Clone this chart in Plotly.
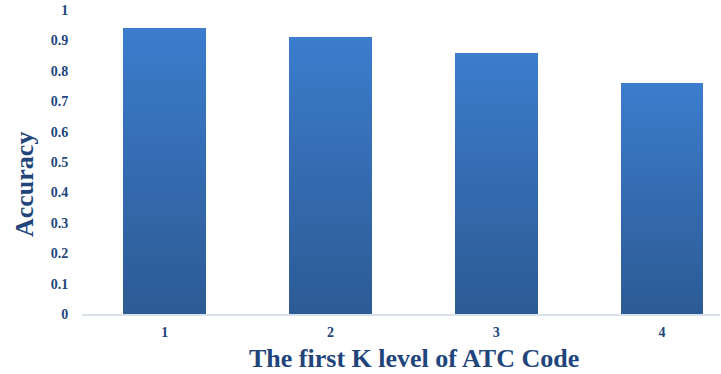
import plotly.graph_objects as go

categories = [1, 2, 3, 4]
accuracy = [0.94, 0.91, 0.86, 0.76]
y_ticks = [0, 0.1, 0.2, 0.3, 0.4, 0.5, 0.6, 0.7, 0.8, 0.9, 1]
y_tick_labels = ["0", "0.1", "0.2", "0.3", "0.4", "0.5", "0.6", "0.7", "0.8", "0.9", "1"]

TEXT = "#21457B"
FONT = "Liberation Serif"
TOP = (0x3B, 0x7C, 0xCC)
BOTTOM = (0x2D, 0x5B, 0x95)
N = 40

fig = go.Figure()
# gradient fill: each bar drawn as N stacked slices of value/N
for i in range(N):
    t = i / (N - 1)
    c = tuple(round(BOTTOM[k] + (TOP[k] - BOTTOM[k]) * t) for k in range(3))
    fig.add_trace(go.Bar(
        x=categories,
        y=[v / N for v in accuracy],
        width=0.5,
        marker=dict(color="rgb(%d,%d,%d)" % c, line=dict(width=0)),
        showlegend=False,
        hoverinfo="skip",
    ))

fig.update_layout(
    barmode="stack",
    bargap=0,
    width=721, height=374,
    margin=dict(l=82, r=1, t=10, b=60),
    paper_bgcolor="white", plot_bgcolor="white",
    font=dict(family=FONT, color=TEXT),
    xaxis=dict(
        range=[0.5, 4.35],
        tickvals=categories,
        ticktext=[str(c) for c in categories],
        tickfont=dict(size=14, family=FONT, color=TEXT, weight="bold"),
        showgrid=False, zeroline=False,
        showline=True, linecolor="#D9E2EC", linewidth=1.5,
        ticks="outside", ticklen=4, tickcolor="white",
    ),
    yaxis=dict(
        range=[0, 1],
        tickvals=y_ticks,
        ticktext=y_tick_labels,
        tickfont=dict(size=14, family=FONT, color=TEXT, weight="bold"),
        showgrid=False, zeroline=False, showline=False,
        ticks="outside", ticklen=10, tickcolor="white",
    ),
    annotations=[
        dict(text="<b>Accuracy</b>", xref="paper", yref="paper",
             x=-82 / 638 + 25 / 638, y=(314 - 185) / 304,
             xanchor="center", yanchor="middle", textangle=-90,
             showarrow=False, font=dict(size=26, family=FONT, color=TEXT)),
        dict(text="<b>The first K level of ATC Code</b>", xref="paper", yref="paper",
             x=(414 - 82) / 638, y=-(358 - 314) / 304,
             xanchor="center", yanchor="middle",
             showarrow=False, font=dict(size=26, family=FONT, color=TEXT)),
    ],
)

fig.write_html("out.html")
